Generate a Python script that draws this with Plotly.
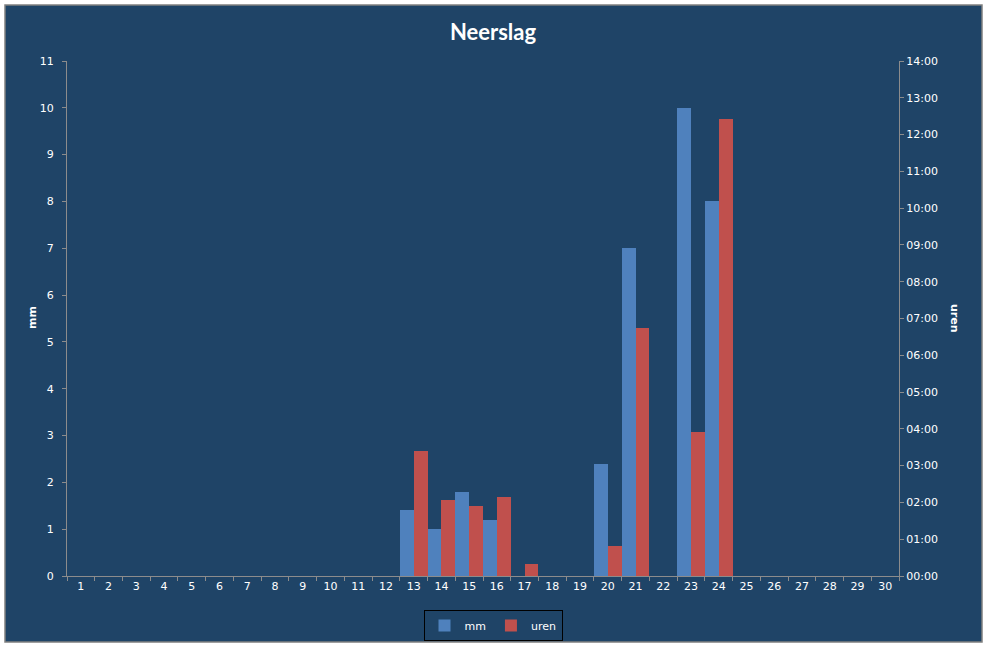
import plotly.graph_objects as go

days = [str(d) for d in range(1, 31)]
mm = [0, 0, 0, 0, 0, 0, 0, 0, 0, 0, 0, 0, 1.4, 1.0, 1.8, 1.2, 0, 0, 0, 2.4, 7.0, 0, 10.0, 8.0, 0, 0, 0, 0, 0, 0]
uren = [0, 0, 0, 0, 0, 0, 0, 0, 0, 0, 0, 0, 3.4, 2.07, 1.9, 2.15, 0.33, 0, 0, 0.82, 6.73, 0, 3.92, 12.42, 0, 0, 0, 0, 0, 0]
hour_ticks = list(range(0, 15))
hour_labels = ["%02d:00" % h for h in hour_ticks]
mm_ticks = list(range(0, 12))

BG = "#1F4467"
TXT = "#FFFFFF"
AX = "#8C8C8C"
FONT = "DejaVu Sans"

fig = go.Figure()
fig.add_trace(go.Bar(x=days, y=mm, name="mm", marker_color="#4F81BD", marker_line_width=0,
                     offsetgroup="mm", alignmentgroup="a", yaxis="y"))
fig.add_trace(go.Bar(x=days, y=uren, name="uren", marker_color="#C0504D", marker_line_width=0,
                     offsetgroup="uren", alignmentgroup="a", yaxis="y2"))

L, R, T, B = 67, 88, 61, 72
W, H = 987, 648
pw, ph = W - L - R, H - T - B

def px(x):
    return (x - L) / pw

def py(y):
    return (H - B - y) / ph

fig.update_layout(
    width=W, height=H,
    margin=dict(l=L, r=R, t=T, b=B, pad=0, autoexpand=False),
    paper_bgcolor="white",
    plot_bgcolor="rgba(0,0,0,0)",
    barmode="group", bargap=0, bargroupgap=0,
    font=dict(family=FONT, size=11, color=TXT),
    title=dict(text="<b>Neerslag</b>", x=px(493), xref="paper", xanchor="center",
               y=1 - 32 / H, yanchor="middle",
               font=dict(family="Lato", size=22, color="white")),
    showlegend=True,
    legend=dict(orientation="h", xref="container", yref="container",
                x=493 / W, xanchor="center", y=1 - 610 / H, yanchor="top",
                bordercolor="#000000", borderwidth=1, bgcolor="rgba(0,0,0,0)",
                font=dict(family=FONT, size=11, color=TXT),
                itemwidth=30, tracegroupgap=0),
    xaxis=dict(type="category", showgrid=False, showline=True, linecolor=AX, linewidth=1,
               ticks="outside", ticklen=4, tickcolor=AX, tickson="boundaries",
               tickfont=dict(family=FONT, size=11, color=TXT), zeroline=False,
               automargin=False),
    yaxis=dict(range=[0, 11], tickvals=mm_ticks, showgrid=False, showline=True,
               linecolor=AX, linewidth=1, ticks="outside", ticklen=4, tickcolor=AX,
               tickfont=dict(family=FONT, size=11, color=TXT), zeroline=False,
               ticklabelstandoff=6, automargin=False),
    yaxis2=dict(range=[0, 14], tickvals=hour_ticks, ticktext=hour_labels, overlaying="y",
                side="right", showgrid=False, showline=True, linecolor=AX, linewidth=1,
                ticks="outside", ticklen=4, tickcolor=AX,
                tickfont=dict(family=FONT, size=11, color=TXT), zeroline=False,
                automargin=False),
    shapes=[dict(type="rect", xref="paper", yref="paper",
                 x0=px(5), x1=px(982), y0=py(642), y1=py(5),
                 fillcolor=BG, line=dict(color="#808080", width=1.5), layer="below")],
    annotations=[
        dict(text="<b>mm</b>", x=px(32), y=py(318), xref="paper", yref="paper",
             xanchor="center", yanchor="middle",
             showarrow=False, textangle=-90, font=dict(family=FONT, size=11, color=TXT)),
        dict(text="<b>uren</b>", x=px(955), y=py(318), xref="paper", yref="paper",
             xanchor="center", yanchor="middle",
             showarrow=False, textangle=90, font=dict(family=FONT, size=11, color=TXT)),
    ],
)

fig.write_html("out.html", config={"displayModeBar": False},
               post_script="document.body.style.margin='0';document.body.style.overflow='hidden';")
